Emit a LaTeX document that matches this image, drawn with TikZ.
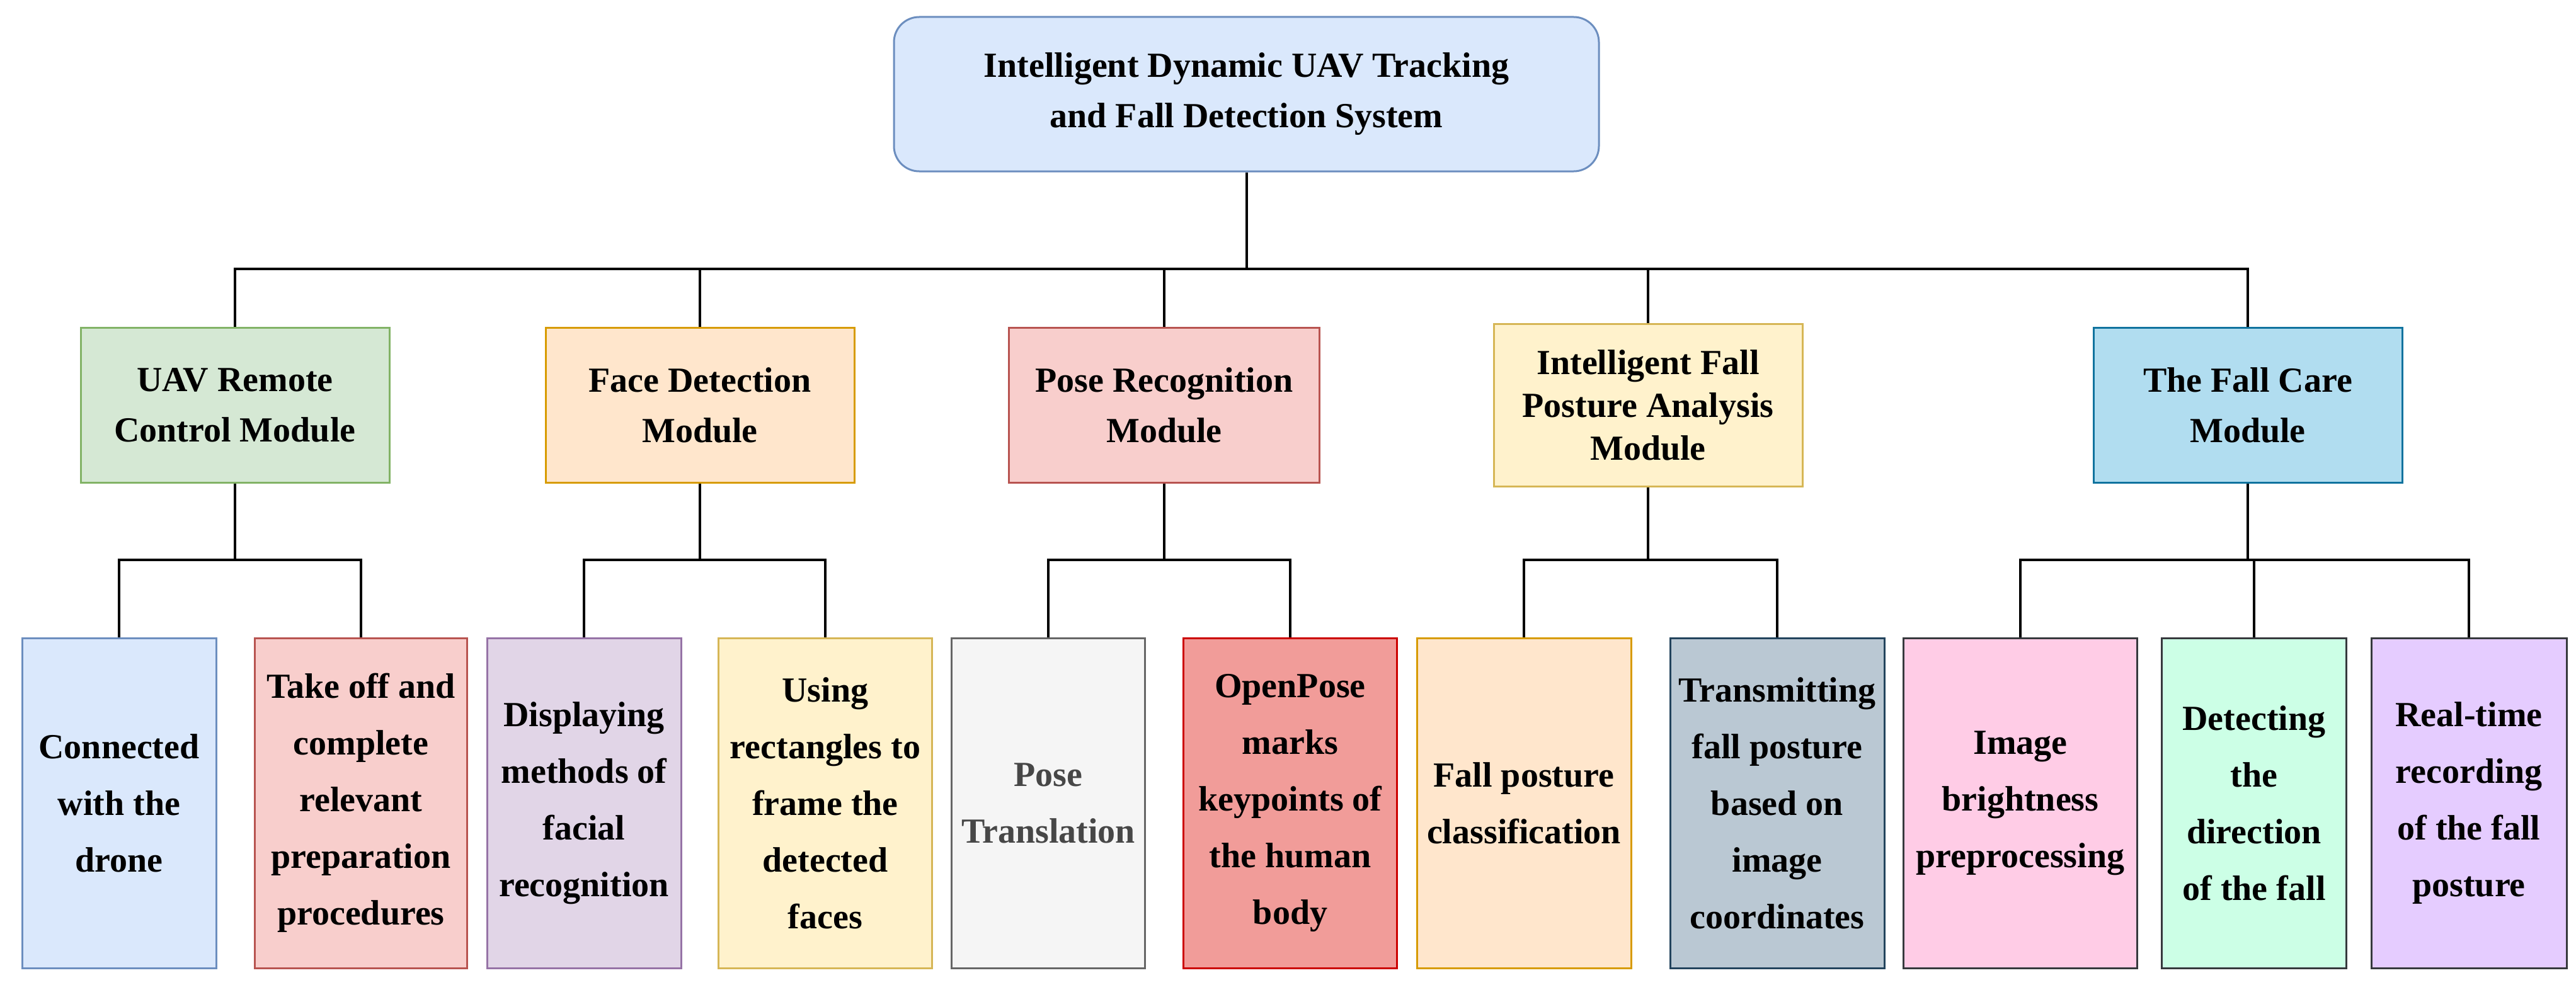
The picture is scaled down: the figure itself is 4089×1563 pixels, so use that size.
\documentclass[tikz,border=0pt]{standalone}
\usepackage{fontspec}
\setmainfont{Liberation Serif}
\begin{document}
\begin{tikzpicture}[x=1pt,y=-1pt,
 bx/.style={draw, line width=3pt, align=center, inner sep=0pt, font=\fontsize{56}{80}\selectfont\bfseries},
 lf/.style={bx, font=\fontsize{56}{90}\selectfont\bfseries},
 ln/.style={line width=4pt, draw=black}]
\useasboundingbox (0,0) rectangle (4089,1563);
\definecolor{c1f}{HTML}{DAE8FC}\definecolor{c1d}{HTML}{6C8EBF}
\definecolor{c2f}{HTML}{D5E8D4}\definecolor{c2d}{HTML}{82B366}
\definecolor{c3f}{HTML}{FFE6CC}\definecolor{c3d}{HTML}{D79B00}
\definecolor{c4f}{HTML}{F8CECC}\definecolor{c4d}{HTML}{B85450}
\definecolor{c5f}{HTML}{FFF2CC}\definecolor{c5d}{HTML}{D6B656}
\definecolor{c6f}{HTML}{B1DDF0}\definecolor{c6d}{HTML}{10739E}
\definecolor{c7f}{HTML}{E1D5E7}\definecolor{c7d}{HTML}{9673A6}
\definecolor{c8f}{HTML}{F5F5F5}\definecolor{c8d}{HTML}{666666}
\definecolor{c9f}{HTML}{F19C99}\definecolor{c9d}{HTML}{CC0000}
\definecolor{c10f}{HTML}{BAC8D3}\definecolor{c10d}{HTML}{23445D}
\definecolor{c11f}{HTML}{FFCCE6}\definecolor{c11d}{HTML}{36393D}
\definecolor{c12f}{HTML}{CCFFE6}\definecolor{c12d}{HTML}{36393D}
\definecolor{c13f}{HTML}{E5CCFF}\definecolor{c13d}{HTML}{36393D}
\node[bx, fill=c1f, draw=c1d, rounded corners=40pt, minimum width=1119pt, minimum height=245pt] (top) at (1978.5,149.5) {Intelligent Dynamic UAV Tracking\\and Fall Detection System};
\node[bx, fill=c2f, draw=c2d, minimum width=490pt, minimum height=246pt] (m1) at (373,643) {UAV Remote\\Control Module};
\node[bx, fill=c3f, draw=c3d, minimum width=490pt, minimum height=246pt] (m2) at (1111,643) {Face Detection\\Module};
\node[bx, fill=c4f, draw=c4d, minimum width=493pt, minimum height=246pt] (m3) at (1848,643) {Pose Recognition\\Module};
\node[bx, fill=c5f, draw=c5d, minimum width=490pt, minimum height=258pt, font=\fontsize{56}{68}\selectfont\bfseries] (m4) at (2616,643) {Intelligent Fall\\Posture Analysis\\Module};
\node[bx, fill=c6f, draw=c6d, minimum width=490pt, minimum height=246pt] (m5) at (3568,643) {The Fall Care\\Module};
\def\lh{524pt}
\node[lf, fill=c1f, draw=c1d, minimum width=308pt, minimum height=\lh] (l1) at (189,1275) {Connected\\with the\\drone};
\node[lf, fill=c4f, draw=c4d, minimum width=337pt, minimum height=\lh] (l2) at (573,1275) {Take off and\\complete\\relevant\\preparation\\procedures};
\node[lf, fill=c7f, draw=c7d, minimum width=308pt, minimum height=\lh] (l3) at (927,1275) {Displaying\\methods of\\facial\\recognition};
\node[lf, fill=c5f, draw=c5d, minimum width=339pt, minimum height=\lh] (l4) at (1310,1275) {Using\\rectangles to\\frame the\\detected\\faces};
\node[lf, fill=c8f, draw=c8d, text=c8d!70!black, minimum width=307pt, minimum height=\lh] (l5) at (1664,1275) {Pose\\Translation};
\node[lf, fill=c9f, draw=c9d, minimum width=339pt, minimum height=\lh] (l6) at (2048,1275) {OpenPose\\marks\\keypoints of\\the human\\body};
\node[lf, fill=c3f, draw=c3d, minimum width=340pt, minimum height=\lh] (l7) at (2419,1275) {Fall posture\\classification};
\node[lf, fill=c10f, draw=c10d, minimum width=340pt, minimum height=\lh] (l8) at (2821,1275) {Transmitting\\fall posture\\based on\\image\\coordinates};
\node[lf, fill=c11f, draw=c11d, minimum width=371pt, minimum height=\lh] (l9) at (3207,1275) {Image\\brightness\\preprocessing};
\node[lf, fill=c12f, draw=c12d, minimum width=293pt, minimum height=\lh] (l10) at (3578,1275) {Detecting\\the\\direction\\of the fall};
\node[lf, fill=c13f, draw=c13d, minimum width=310pt, minimum height=\lh] (l11) at (3919,1275) {Real-time\\recording\\of the fall\\posture};
\coordinate (b1) at (0,427);
\draw[ln] (top.south) -- (top.south |- b1);
\draw[ln] (m1.north) -- (m1.north |- b1) -- (m5.north |- b1) -- (m5.north);
\foreach \m in {m2,m3,m4} \draw[ln] (\m.north) -- (\m.north |- b1);
\coordinate (b2) at (0,889);
\foreach \m/\a/\b in {m1/l1/l2, m2/l3/l4, m3/l5/l6, m4/l7/l8, m5/l9/l11} {
 \draw[ln] (\m.south) -- (\m.south |- b2);
 \draw[ln] (\a.north) -- (\a.north |- b2) -- (\b.north |- b2) -- (\b.north);
}
\draw[ln] (l10.north) -- (l10.north |- b2);
\end{tikzpicture}
\end{document}
